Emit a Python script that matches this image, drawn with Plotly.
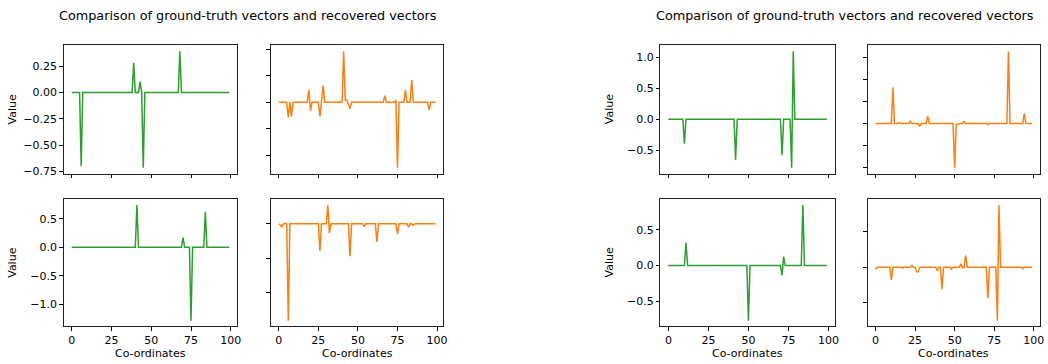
import numpy as np
import plotly.graph_objects as go

N = 100
coords = list(range(N))

# Left figure: ground truth (green) and recovered (orange), sparse spikes (index -> value)
gt_a_top_idx = [6, 39, 43, 45, 68]
gt_a_top_val = [-0.70, 0.283, 0.104, -0.714, 0.392]
rec_a_top_idx = [6, 8, 19, 20, 26, 28, 41, 42, 43, 44, 45, 67, 74, 75, 80, 84, 95]
rec_a_top_val = [-0.575, -0.55, 0.46, -0.33, -0.54, 0.63, 1.925, 0.08, 0.08, -0.08, -0.25, 0.25, 0.07, -2.475, 0.46, 0.84, -0.29]
gt_a_bot_idx = [41, 70, 75, 84]
gt_a_bot_val = [0.74, 0.167, -1.29, 0.62]
rec_a_bot_idx = [1, 2, 6, 26, 31, 32, 45, 54, 62, 75, 82, 85]
rec_a_bot_val = [-0.03, -0.09, -2.83, -0.79, 0.55, -0.27, -0.95, -0.08, -0.53, -0.30, -0.10, -0.04]

# Right figure
gt_b_top_idx = [10, 42, 71, 77, 78]
gt_b_top_val = [-0.395, -0.65, -0.58, -0.78, 1.095]
rec_b_top_idx = [11, 15, 22, 28, 33, 50, 51, 52, 56, 71, 84, 94]
rec_b_top_val = [1.64, 0.04, 0.10, -0.13, 0.34, -2.0, -0.03, -0.03, 0.09, -0.05, 3.27, 0.45]
gt_b_bot_idx = [11, 50, 71, 72, 84]
gt_b_bot_val = [0.32, -0.77, -0.137, 0.123, 0.846]
rec_b_bot_idx = [0, 10, 17, 23, 26, 27, 39, 42, 48, 54, 55, 57, 71, 77, 78, 93]
rec_b_bot_val = [-0.06, -0.36, -0.03, 0.05, -0.13, -0.13, -0.10, -0.62, -0.06, 0.09, -0.02, 0.32, -0.87, -1.5, 1.74, -0.04]

x_ticks = [0, 25, 50, 75, 100]
title_text = "Comparison of ground-truth vectors and recovered vectors"
GREEN = "#2ca02c"
ORANGE = "#ff7f0e"

W, H = 1048, 364


def build(idx, val):
    arr = np.zeros(N)
    arr[idx] = val
    return arr


def fx(p):
    return p / W


def fy(p):
    return 1 - p / H


# panels: (series, color, x px domain, y px domain (top,bottom), show x labels, show y labels, dtick, fmt)
panels = [
    (build(gt_a_top_idx, gt_a_top_val), GREEN, (64, 238), (46, 176), False, True, 0.25, ".2f"),
    (build(rec_a_top_idx, rec_a_top_val), ORANGE, (272, 445), (46, 176), False, False, 1, ""),
    (build(gt_a_bot_idx, gt_a_bot_val), GREEN, (64, 238), (202, 331), True, True, 0.5, ".1f"),
    (build(rec_a_bot_idx, rec_a_bot_val), ORANGE, (272, 445), (202, 331), True, False, 1, ""),
    (build(gt_b_top_idx, gt_b_top_val), GREEN, (663, 838), (46, 176), False, True, 0.5, ".1f"),
    (build(rec_b_top_idx, rec_b_top_val), ORANGE, (871, 1044), (46, 176), False, False, 1, ""),
    (build(gt_b_bot_idx, gt_b_bot_val), GREEN, (663, 838), (202, 331), True, True, 0.5, ".1f"),
    (build(rec_b_bot_idx, rec_b_bot_val), ORANGE, (871, 1044), (202, 331), True, False, 1, ""),
]

fig = go.Figure()
FONT = "DejaVu Sans"
tickfont = dict(family=FONT, size=11, color="#000")
layout = dict(
    width=W, height=H, margin=dict(l=0, r=0, t=0, b=0),
    paper_bgcolor="white", plot_bgcolor="white", showlegend=False,
)
annotations = []

for i, (y, color, xd, yd, showx, showy, dt, fmt) in enumerate(panels, start=1):
    sfx = "" if i == 1 else str(i)
    fig.add_trace(go.Scatter(x=coords, y=y, mode="lines",
                             line=dict(color=color, width=1.5),
                             xaxis="x" + sfx, yaxis="y" + sfx))
    ymin, ymax = float(np.min(y)), float(np.max(y))
    span = ymax - ymin
    xspan = coords[-1] - coords[0]
    layout["xaxis" + sfx] = dict(
        domain=[fx(xd[0]), fx(xd[1])], anchor="y" + sfx,
        range=[coords[0] - 0.05 * xspan, coords[-1] + 0.05 * xspan],
        tickmode="array", tickvals=x_ticks, showticklabels=showx,
        ticks="outside", ticklen=3.5, tickwidth=1, tickcolor="#000",
        showline=True, linecolor="#222", linewidth=1, mirror=True,
        showgrid=False, zeroline=False, tickfont=tickfont,
    )
    layout["yaxis" + sfx] = dict(
        domain=[fy(yd[1]), fy(yd[0])], anchor="x" + sfx,
        range=[ymin - 0.05 * span, ymax + 0.05 * span],
        tick0=0, dtick=dt, tickformat=fmt, showticklabels=showy,
        ticks="outside", ticklen=3.5, tickwidth=1, tickcolor="#000",
        showline=True, linecolor="#222", linewidth=1, mirror=True,
        showgrid=False, zeroline=False, tickfont=tickfont,
    )
    if showx:
        annotations.append(dict(text="Co-ordinates", x=fx((xd[0] + xd[1]) / 2), y=fy(358),
                                xref="paper", yref="paper", showarrow=False,
                                xanchor="center", yanchor="middle",
                                font=dict(family=FONT, size=11, color="#000")))
    if showy:
        annotations.append(dict(text="Value", x=fx(xd[0] - 51), y=fy((yd[0] + yd[1]) / 2),
                                xref="paper", yref="paper", showarrow=False, textangle=-90,
                                xanchor="center", yanchor="middle",
                                font=dict(family=FONT, size=11, color="#000")))

for cx in (249, 848):
    annotations.append(dict(text=title_text, x=fx(cx), y=fy(16), xref="paper", yref="paper",
                            showarrow=False, xanchor="center", yanchor="middle",
                            font=dict(family=FONT, size=12.8, color="#000")))

layout["annotations"] = annotations
fig.update_layout(**layout)
fig.write_html("out.html", config={"displayModeBar": False},
               post_script="document.body.style.margin='0';document.body.style.overflow='hidden';")
